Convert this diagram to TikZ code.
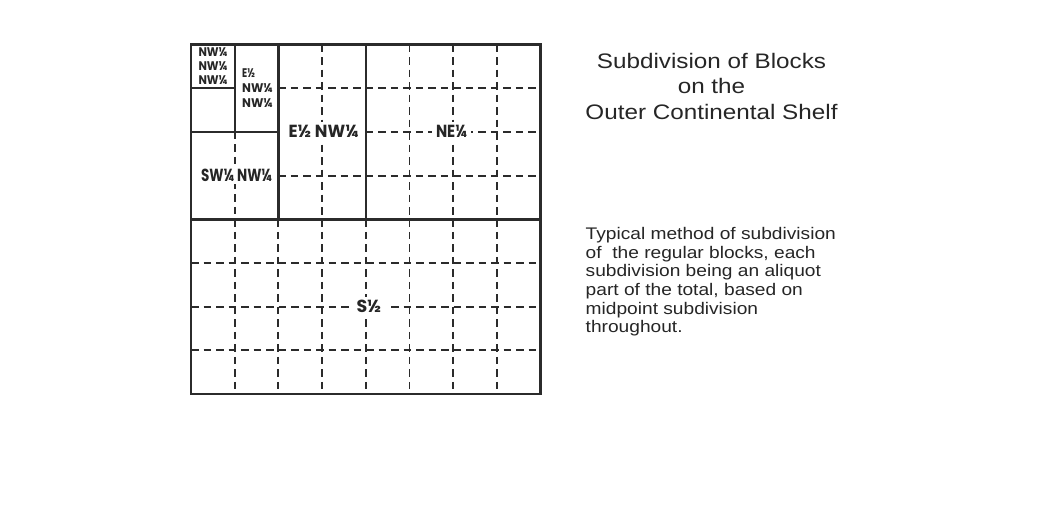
\documentclass[tikz,border=0pt]{standalone}
\usepackage{fontspec}
\usepackage{graphicx}
\setmainfont{Liberation Sans}
\newfontfamily\labfamily{Poppins}
\definecolor{lc}{HTML}{2B2B2B}
\definecolor{tc}{HTML}{262626}
\newcommand{\fitw}[2]{\resizebox{#1}{\height}{#2}}
\begin{document}
\begin{tikzpicture}[x=1pt,y=-1pt,
  thk/.style={line width=2.4pt, draw=lc, line cap=rect},
  dsh/.style={line width=1.9pt, draw=lc, dash pattern=on 7.5pt off 5pt},
  lab/.style={font=\labfamily\bfseries\fontsize{17.5}{19}\selectfont, text=tc, fill=white, inner xsep=4pt, inner ysep=3pt, anchor=base},
  labs/.style={font=\labfamily\bfseries\fontsize{12.5}{14}\selectfont, text=tc, inner sep=0pt, anchor=base},
  ttl/.style={font=\fontsize{21}{25}\selectfont, text=tc, inner sep=0pt, anchor=base},
  par/.style={font=\fontsize{16.8}{18.7}\selectfont, text=tc, inner sep=0pt, anchor=base west}]
\useasboundingbox[fill=white] (0,0) rectangle (1051,509);
\begin{scope}[shift={(191,44.5)}, x=43.7pt, y=-43.7pt]
  % dashed section lines
  \draw[dsh] (2,1) -- (8,1);
  \draw[dsh] (2,3) -- (8,3);
  \draw[dsh] (4,2) -- (8,2);
  \foreach \x in {3,5,6,7} \draw[dsh] (\x,0) -- (\x,4);
  \draw[dsh] (1,2) -- (1,4);
  \foreach \x in {1,...,7} \draw[dsh] (\x,4) -- (\x,8);
  \foreach \y in {5,6,7} \draw[dsh] (0,\y) -- (8,\y);
  % solid subdivision lines
  \draw[thk] (0,0) rectangle (8,8);
  \draw[thk] (0,4) -- (8,4);
  \draw[thk] (4,0) -- (4,4);
  \draw[thk] (2,0) -- (2,4);
  \draw[thk] (0,2) -- (2,2);
  \draw[thk] (1,0) -- (1,2);
  \draw[thk] (0,1) -- (1,1);
\end{scope}
% small labels
\node[labs] (a1) at (213,56.8) {\fitw{29pt}{NW¼}};
\node[labs] (a2) at (213,70.3) {\fitw{29pt}{NW¼}};
\node[labs] (a3) at (213,84.3) {\fitw{29pt}{NW¼}};
\node[labs, anchor=base west] (b1) at (242,77.3) {\fitw{13pt}{E½}};
\node[labs, anchor=base west] (b2) at (242,92.3) {\fitw{30.5pt}{NW¼}};
\node[labs, anchor=base west] (b3) at (242,107.3) {\fitw{30.5pt}{NW¼}};
% larger labels
\node[lab] (enw) at (323.5,137.5) {\fitw{70pt}{E½ NW¼}};
\node[lab] (swnw) at (236.6,181) {\fitw{71pt}{SW¼ NW¼}};
\node[lab] (ne) at (451.5,137.5) {\fitw{31pt}{NE¼}};
\node[lab] (s) at (369,312.5) {\fitw{25pt}{S½}};
% title
\node[ttl] (t1) at (711.5,68.3) {\scalebox{1.155}[1]{Subdivision of Blocks}};
\node[ttl] (t2) at (711.5,93.6) {\scalebox{1.155}[1]{on the}};
\node[ttl] (t3) at (711.5,119) {\scalebox{1.155}[1]{Outer Continental Shelf}};
% paragraph
\node[par] (p1) at (585.5,239.3) {\scalebox{1.14}[1]{Typical method of subdivision}};
\node[par] (p2) at (585.5,258) {\scalebox{1.14}[1]{of~ the regular blocks, each}};
\node[par] (p3) at (585.5,276.7) {\scalebox{1.14}[1]{subdivision being an aliquot}};
\node[par] (p4) at (585.5,295.4) {\scalebox{1.14}[1]{part of the total, based on}};
\node[par] (p5) at (585.5,314.1) {\scalebox{1.14}[1]{midpoint subdivision}};
\node[par] (p6) at (585.5,332.8) {\scalebox{1.14}[1]{throughout.}};
\end{tikzpicture}
\end{document}
